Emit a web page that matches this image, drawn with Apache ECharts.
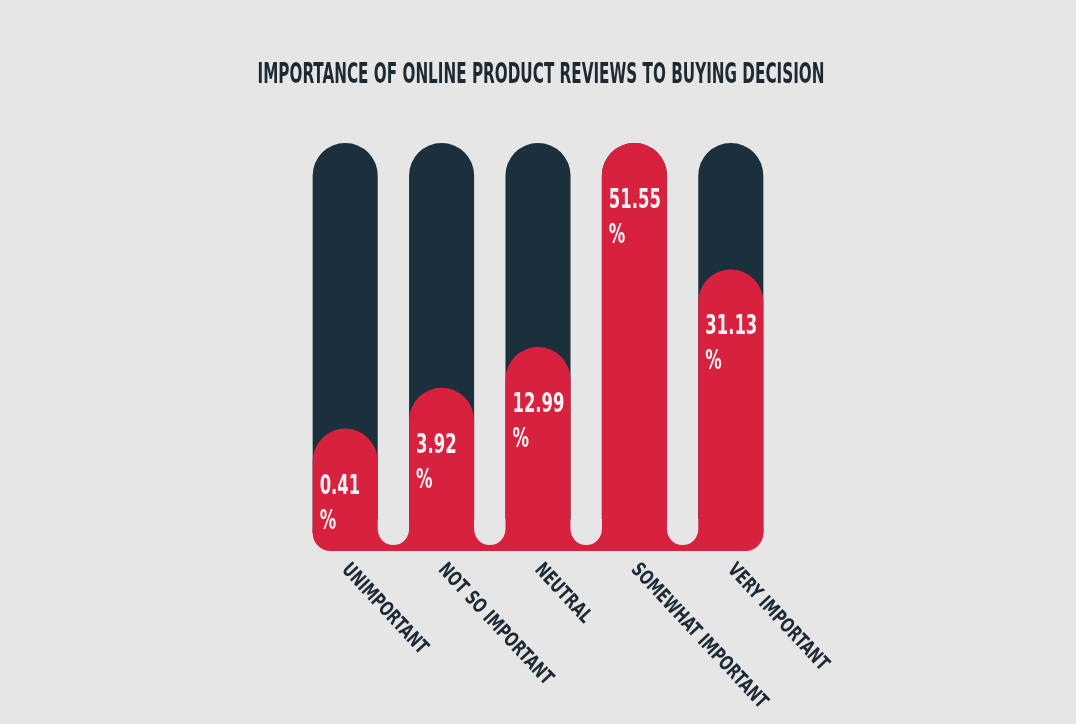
<!DOCTYPE html>
<html>
<head>
<meta charset="utf-8">
<script src="https://cdn.jsdelivr.net/npm/echarts@6/dist/echarts.min.js"></script>
<style>
  html, body { margin: 0; padding: 0; background: #e6e6e6; }
  #chart { width: 1076px; height: 724px; }
</style>
</head>
<body>
<div id="chart"></div>
<script>
// ---- data ----
const chartTitle = 'IMPORTANCE OF ONLINE PRODUCT REVIEWS TO BUYING DECISION';
const categories = ['UNIMPORTANT', 'NOT SO IMPORTANT', 'NEUTRAL', 'SOMEWHAT IMPORTANT', 'VERY IMPORTANT'];
const shares = [0.41, 3.92, 12.99, 51.55, 31.13];          // % of respondents (labels)
const fillLevels = [30, 40, 50, 100, 69];                  // infographic fill height, % of column
const columnMax = 100;

const BG = '#e6e6e6';
const DARK = '#1b2f3d';
const RED = '#d8203f';
const FONT = '"Liberation Sans Narrow", "DejaVu Sans Condensed", "Roboto Condensed", sans-serif';
const TITLE_FONT = 'bold 29px ' + FONT;
const VALUE_FONT = 'bold 27px ' + FONT;
const CAT_FONT = 'bold 20px ' + FONT;

const chart = echarts.init(document.getElementById('chart'));

// horizontal condensing factors (the original uses a very narrow display face)
const cv = document.createElement('canvas').getContext('2d');
function widthOf(text, font) { cv.font = font; return cv.measureText(text).width; }
const titleScale = 567 / widthOf(chartTitle, TITLE_FONT);
const valueScale = 52 / widthOf('51.55', VALUE_FONT);
const catScale = 190 / widthOf('SOMEWHAT IMPORTANT', CAT_FONT);

const BAR_RATIO = 0.675;
const ROT = -47 * Math.PI / 180;

function columnItem(params, api) {
  const i = params.dataIndex;
  const x = api.value(0);
  const top = api.coord([x, columnMax]);
  const base = api.coord([x, 0]);
  const fill = api.coord([x, api.value(1)]);
  const bw = api.size([1, 0])[0] * BAR_RATIO;
  const r = bw / 2;
  const left = top[0] - bw / 2;
  const bottom = base[1] - 18;
  return {
    type: 'group',
    children: [
      { type: 'rect', shape: { x: left, y: top[1], width: bw, height: bottom - top[1], r: [r, r, 0, 0] }, style: { fill: DARK } },
      { type: 'rect', shape: { x: left, y: fill[1], width: bw, height: bottom - fill[1], r: [r, r, 0, 0] }, style: { fill: RED } },
      { type: 'text', z2: 10, x: left + 7, y: fill[1] + 58, scaleX: valueScale,
        style: { text: shares[i].toFixed(2), x: 0, y: 0, verticalAlign: 'middle', align: 'left', fill: '#f6f1f3', font: VALUE_FONT } },
      { type: 'text', z2: 10, x: left + 7, y: fill[1] + 93, scaleX: valueScale,
        style: { text: '%', x: 0, y: 0, verticalAlign: 'middle', align: 'left', fill: '#f6f1f3', font: VALUE_FONT } },
      { type: 'text', z2: 10, x: top[0] + 7, y: base[1] + 9, rotation: ROT, scaleX: catScale,
        style: { text: categories[i], x: 0, y: 0, verticalAlign: 'top', align: 'left', fill: '#1b2a35', font: CAT_FONT } }
    ]
  };
}

function baseItem(params, api) {
  const n = categories.length;
  const first = api.coord([0, 0]);
  const last = api.coord([n - 1, 0]);
  const band = api.size([1, 0])[0];
  const bw = band * BAR_RATIO;
  const gw = band - bw;
  const children = [
    { type: 'rect', shape: { x: first[0] - bw / 2, y: first[1] - 22, width: last[0] - first[0] + bw, height: 22, r: [0, 0, 18, 18] }, style: { fill: RED } }
  ];
  for (let k = 0; k < n - 1; k++) {
    const c = api.coord([k, 0]);
    children.push({ type: 'rect', shape: { x: c[0] + bw / 2, y: c[1] - 32, width: gw, height: 26, r: [0, 0, gw / 2, gw / 2] }, style: { fill: BG } });
  }
  return { type: 'group', children };
}

chart.setOption({
  backgroundColor: BG,
  animation: false,
  grid: { left: 297, width: 482, top: 143, bottom: 173, containLabel: false, outerBoundsMode: 'none' },
  graphic: [{
    type: 'text', x: 541, y: 75, scaleX: titleScale,
    style: { text: chartTitle, x: 0, y: 0, align: 'center', verticalAlign: 'middle', fill: '#1e2a33', font: TITLE_FONT }
  }],
  xAxis: {
    type: 'category', data: categories,
    axisLine: { show: false }, axisTick: { show: false }, splitLine: { show: false },
    axisLabel: { show: false }
  },
  yAxis: { type: 'value', min: 0, max: columnMax, show: false },
  series: [
    { type: 'custom', renderItem: columnItem, data: categories.map((c, i) => [i, fillLevels[i]]), encode: { x: 0, y: 1 }, silent: true, clip: false },
    { type: 'custom', renderItem: baseItem, data: [[0, 0]], encode: { x: 0, y: 1 }, silent: true, clip: false }
  ]
});
</script>
</body>
</html>
